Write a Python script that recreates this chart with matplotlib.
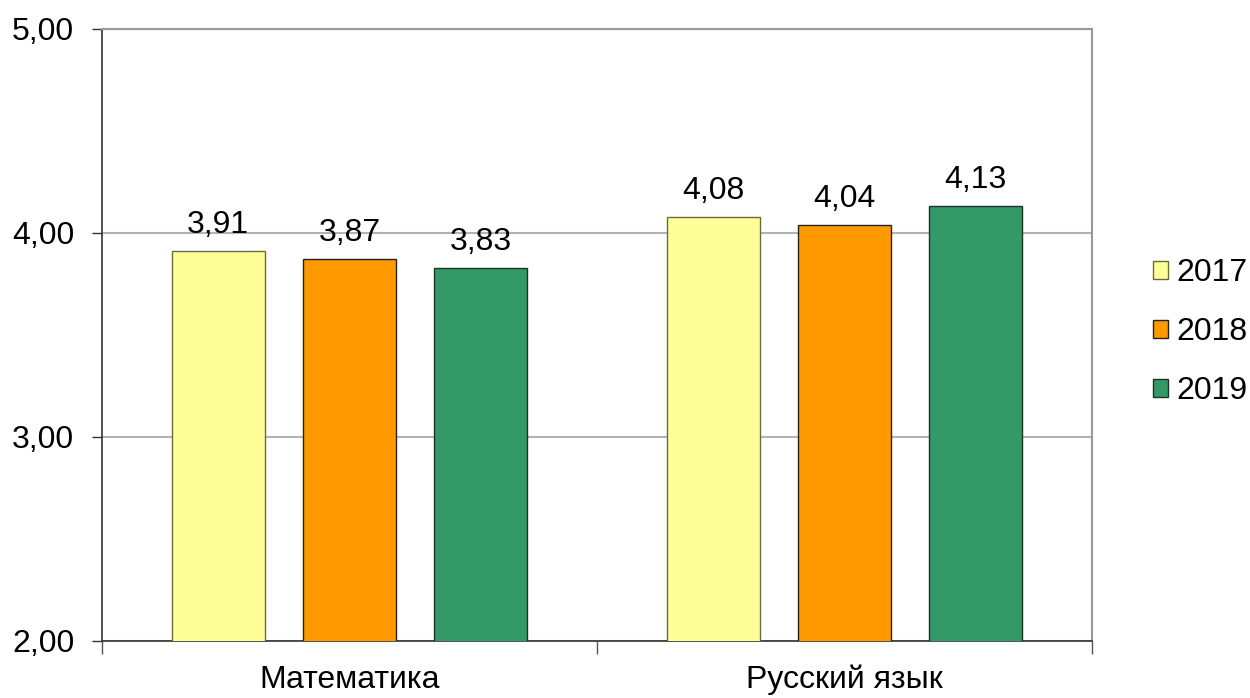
import matplotlib
matplotlib.use("Agg")
import matplotlib.pyplot as plt
import numpy as np

plt.rcParams['font.family'] = ['Liberation Sans', 'DejaVu Sans']

# данные
subjects = ["Математика", "Русский язык"]
years = ["2017", "2018", "2019"]
vals_2017 = [3.91, 4.08]
vals_2018 = [3.87, 4.04]
vals_2019 = [3.83, 4.13]
series = [vals_2017, vals_2018, vals_2019]
colors = ["#FFFF99", "#FF9900", "#339966"]
edges = ["#6b6b3a", "#222222", "#1a3325"]
yticks = [2.0, 3.0, 4.0, 5.0]

fs = 23

fig = plt.figure(figsize=(12.5, 6.98), dpi=100)
ax = fig.add_axes([0.0816, 0.0817, 0.792, 0.8768])

x = np.arange(len(subjects)) + 0.5
width = 0.188
step = 0.265
for i, (vals, col, ec, yr) in enumerate(zip(series, colors, edges, years)):
    pos = x + (i - 1) * step
    bars = ax.bar(pos, vals, width, bottom=0, color=col, edgecolor=ec, linewidth=1.0, label=yr, zorder=3)
    for b, v in zip(bars, vals):
        ax.annotate(f"{v:.2f}".replace(".", ","), (b.get_x() + b.get_width() / 2, v),
                    xytext=(0, 8), textcoords="offset points", ha="center", va="bottom", fontsize=fs)

ax.set_ylim(2, 5)
ax.set_xlim(0, 2)
ax.set_yticks(yticks)
ax.set_yticklabels([f"{t:.2f}".replace(".", ",") for t in yticks], fontsize=fs)
ax.tick_params(axis="y", length=7, width=1, color="#333333", pad=13)

ax.set_xticks([0, 1, 2])
ax.set_xticklabels([])
ax.set_xticks(x, minor=True)
ax.set_xticklabels(subjects, minor=True, fontsize=fs)
ax.tick_params(axis="x", which="major", length=9, width=1, color="#555555")
ax.tick_params(axis="x", which="minor", length=0, pad=17)

ax.yaxis.grid(True, color="#b3b3b3", linewidth=1.5, zorder=0)
ax.set_axisbelow(True)
for side in ["top", "right"]:
    ax.spines[side].set_color("#999999")
    ax.spines[side].set_linewidth(1.5)
ax.spines["left"].set_color("#333333")
ax.spines["bottom"].set_color("#333333")
ax.spines["left"].set_linewidth(1.2)
ax.spines["bottom"].set_linewidth(1.2)

fig.legend(loc="center left", bbox_to_anchor=(0.922, 0.524), fontsize=fs, frameon=False,
           handlelength=0.5, handleheight=0.5, handletextpad=0.25, labelspacing=0.9,
           borderpad=0, borderaxespad=0)

fig.savefig("out.png", dpi=100)
